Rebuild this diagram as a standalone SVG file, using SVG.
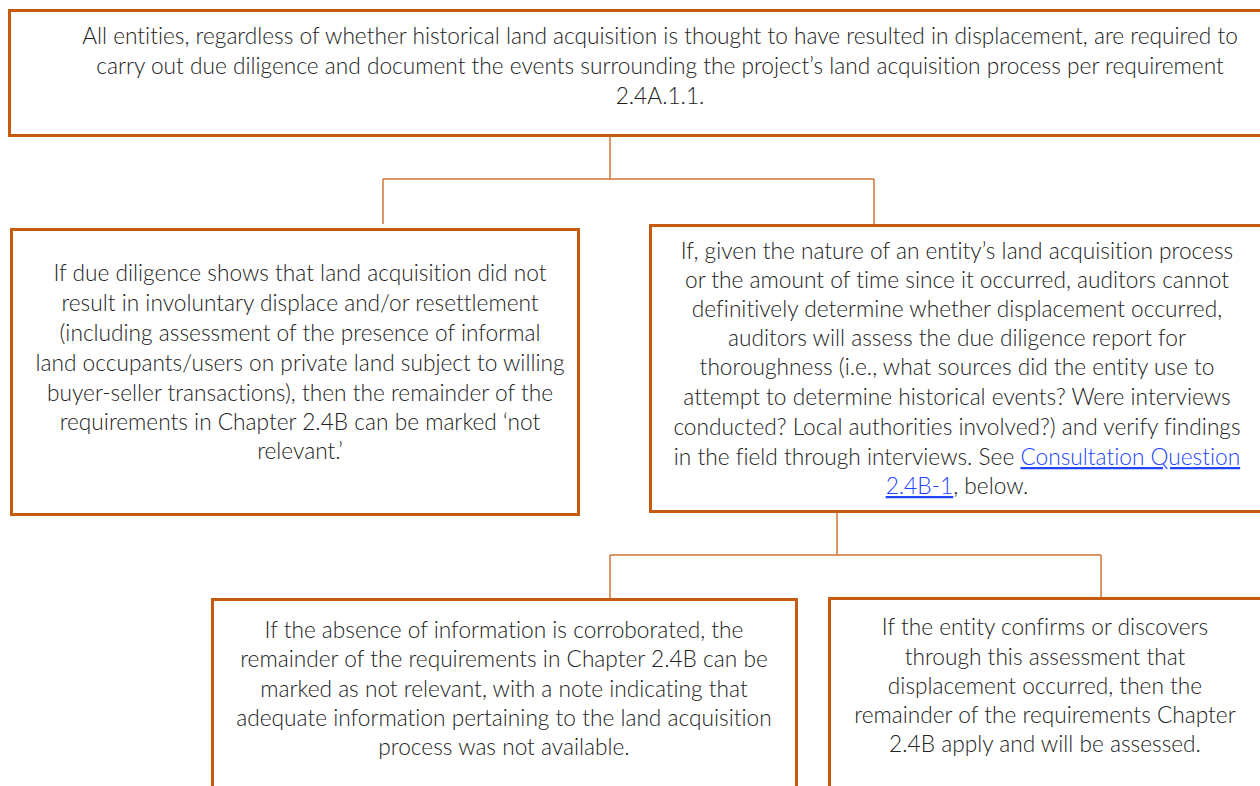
<svg xmlns="http://www.w3.org/2000/svg" width="1260" height="786" viewBox="0 0 1260 786">
<style>
.box{fill:#ffffff;stroke:#C55A11;stroke-width:3}
.conn{fill:none;stroke:#D0743A;stroke-width:1.5}
.t{font-family:Lato,"Liberation Sans",sans-serif;font-size:22.7px;font-weight:300;fill:#222222;text-anchor:middle;font-variant-ligatures:none}
.lnk{fill:#2244FF;text-decoration:underline}
</style>
<rect width="1260" height="786" fill="#ffffff"/>
<g id="connectors">
<path class="conn" d="M610,135 V179 M383,179 H874 M383,179 V224 M874,179 V224"/>
<path class="conn" d="M837,512 V555 M610,555 H1101 M610,555 V599 M1101,555 V598"/>
</g>
<g id="top">
<rect class="box" x="9.5" y="10.5" width="1300" height="125"/>
<text class="t" x="660" y="44">All entities, regardless of whether historical land acquisition is thought to have resulted in displacement, are required to</text>
<text class="t" x="660" y="74">carry out due diligence and document the events surrounding the project’s land acquisition process per requirement</text>
<text class="t" x="660" y="104">2.4A.1.1.</text>
</g>
<g id="left">
<rect class="box" x="11.5" y="229.5" width="567" height="285"/>
<text class="t" x="300" y="281">If due diligence shows that land acquisition did not</text>
<text class="t" x="300" y="311">result in involuntary displace and/or resettlement</text>
<text class="t" x="300" y="341">(including assessment of the presence of informal</text>
<text class="t" x="300" y="371">land occupants/users on private land subject to willing</text>
<text class="t" x="300" y="401">buyer-seller transactions), then the remainder of the</text>
<text class="t" x="300" y="430">requirements in Chapter 2.4B can be marked ‘not</text>
<text class="t" x="300" y="459">relevant.’</text>
</g>
<g id="right">
<rect class="box" x="650.5" y="225.5" width="660" height="286"/>
<text class="t" x="957" y="259">If, given the nature of an entity’s land acquisition process</text>
<text class="t" x="957" y="288">or the amount of time since it occurred, auditors cannot</text>
<text class="t" x="957" y="317">definitively determine whether displacement occurred,</text>
<text class="t" x="957" y="346">auditors will assess the due diligence report for</text>
<text class="t" x="957" y="375">thoroughness (i.e., what sources did the entity use to</text>
<text class="t" x="957" y="405">attempt to determine historical events? Were interviews</text>
<text class="t" x="957" y="435">conducted? Local authorities involved?) and verify findings</text>
<text class="t" x="957" y="465">in the field through interviews. See <tspan class="lnk">Consultation Question</tspan></text>
<text class="t" x="957" y="494"><tspan class="lnk">2.4B-1</tspan>, below.</text>
</g>
<g id="bottom-left">
<rect class="box" x="212.5" y="599.5" width="584" height="200"/>
<text class="t" x="504" y="638">If the absence of information is corroborated, the</text>
<text class="t" x="504" y="667">remainder of the requirements in Chapter 2.4B can be</text>
<text class="t" x="504" y="697">marked as not relevant, with a note indicating that</text>
<text class="t" x="504" y="726">adequate information pertaining to the land acquisition</text>
<text class="t" x="504" y="755">process was not available.</text>
</g>
<g id="bottom-right">
<rect class="box" x="829.5" y="598.5" width="480" height="200"/>
<text class="t" x="1045" y="635">If the entity confirms or discovers</text>
<text class="t" x="1045" y="665">through this assessment that</text>
<text class="t" x="1045" y="694">displacement occurred, then the</text>
<text class="t" x="1045" y="723">remainder of the requirements Chapter</text>
<text class="t" x="1045" y="752">2.4B apply and will be assessed.</text>
</g>
</svg>
